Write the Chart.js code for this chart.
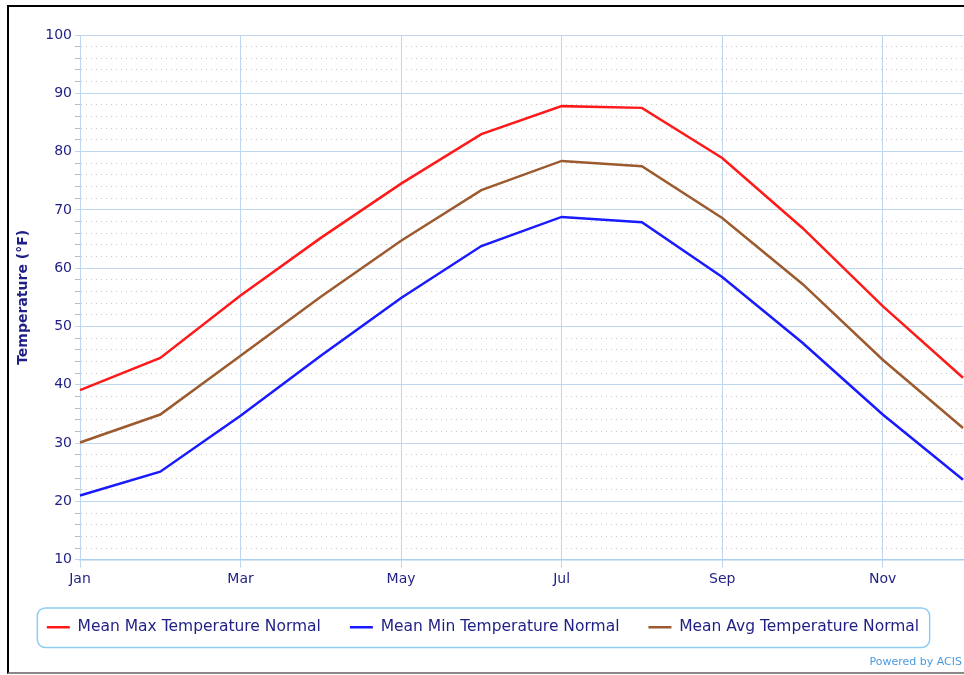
<!DOCTYPE html>
<html>
<head>
<meta charset="utf-8">
<script src="https://cdn.jsdelivr.net/npm/chart.js@4.4.1/dist/chart.umd.min.js"></script>
<style>
  html, body { margin: 0; padding: 0; background: #fff; }
  body { width: 964px; height: 675px; position: relative; overflow: hidden; }
  #frame {
    position: absolute; left: 7px; top: 5px; width: 980px; height: 665px;
    border-left: 2px solid #000; border-top: 2px solid #000; border-bottom: 2px solid #888;
  }
  #wrap { position: absolute; left: 0; top: 0; width: 966px; height: 660px; }
  #credit {
    position: absolute; right: 2px; top: 655px;
    font: 11px "DejaVu Sans", sans-serif; color: #4a9be0;
  }
</style>
</head>
<body>
<div id="frame"></div>
<div id="wrap"><canvas id="chart"></canvas></div>
<div id="credit">Powered by ACIS</div>
<script>
// monthly normals
const months = ['Jan', 'Feb', 'Mar', 'Apr', 'May', 'Jun', 'Jul', 'Aug', 'Sep', 'Oct', 'Nov', 'Dec'];
const maxNormal = [39.1, 44.6, 55.3, 65.2, 74.5, 83.0, 87.8, 87.5, 78.9, 66.9, 53.5, 41.2];
const minNormal = [21.0, 25.1, 34.7, 45.0, 54.9, 63.8, 68.8, 67.9, 58.5, 47.2, 34.9, 23.7];
const avgNormal = [30.1, 34.9, 45.0, 55.1, 64.7, 73.4, 78.4, 77.5, 68.6, 57.3, 44.3, 32.6];
const yMin = 10, yMax = 100;

const textColor = '#1f1f85';
const gridBlue = '#bfd7ee';

// rounded box around the legend
const legendBoxPlugin = {
  id: 'legendBox',
  afterDraw(chart) {
    const lg = chart.legend;
    if (!lg || !lg.legendHitBoxes || !lg.legendHitBoxes.length) return;
    const boxes = lg.legendHitBoxes;
    let x0 = Infinity, x1 = -Infinity, y0 = Infinity, y1 = -Infinity;
    boxes.forEach(b => {
      x0 = Math.min(x0, b.left); x1 = Math.max(x1, b.left + b.width);
      y0 = Math.min(y0, b.top); y1 = Math.max(y1, b.top + b.height);
    });
    const cx = chart.ctx;
    const l = x0 - 10, t = y0 - 12, w = x1 - x0 + 20, h = y1 - y0 + 24, r = 8;
    cx.save();
    cx.strokeStyle = '#8fcdf2';
    cx.lineWidth = 1.5;
    cx.beginPath();
    cx.roundRect(l + 0.5, t + 0.5, w, h, r);
    cx.stroke();
    cx.restore();
  }
};

new Chart(document.getElementById('chart'), {
  type: 'line',
  data: {
    labels: months,
    datasets: [
      { label: 'Mean Max Temperature Normal', data: maxNormal, borderColor: '#ff1a1a', backgroundColor: '#ff1a1a', borderWidth: 2.5 },
      { label: 'Mean Min Temperature Normal', data: minNormal, borderColor: '#1a1aff', backgroundColor: '#1a1aff', borderWidth: 2.5 },
      { label: 'Mean Avg Temperature Normal', data: avgNormal, borderColor: '#9c5a2e', backgroundColor: '#9c5a2e', borderWidth: 2.5 }
    ]
  },
  options: {
    responsive: true,
    maintainAspectRatio: false,
    animation: false,
    layout: { padding: { left: 0, right: 0, top: 35, bottom: 15 } },
    elements: {
      line: { tension: 0 },
      point: { radius: 0, hoverRadius: 0 }
    },
    scales: {
      x: {
        type: 'category',
        offset: false,
        grid: {
          color: (c) => (c.index % 2 === 0 ? gridBlue : 'rgba(0,0,0,0)'),
          tickColor: (c) => (c.index % 2 === 0 ? gridBlue : 'rgba(0,0,0,0)'),
          tickLength: 8
        },
        border: { display: true, color: '#a8d0ee', width: 1.5 },
        ticks: {
          autoSkip: false,
          maxRotation: 0,
          padding: 3,
          color: textColor,
          font: { family: 'DejaVu Sans', size: 14 },
          callback: (v, i) => (i % 2 === 0 ? months[i] : '')
        }
      },
      y: {
        min: yMin,
        max: yMax,
        afterFit: (s) => { s.width = 80; },
        grid: {
          color: (c) => (c.tick && c.tick.value % 10 === 0 ? gridBlue : '#c6cad0'),
          tickColor: (c) => (c.tick && c.tick.value % 10 === 0 ? gridBlue : '#b8bcc2'),
          tickLength: 5
        },
        border: {
          display: true,
          color: gridBlue,
          dash: (c) => (c.tick && c.tick.value % 10 !== 0 ? [1, 4] : [])
        },
        ticks: {
          stepSize: 2,
          autoSkip: false,
          padding: 3,
          color: textColor,
          font: { family: 'DejaVu Sans', size: 14 },
          callback: (v) => (v % 10 === 0 ? v : '')
        },
        title: {
          display: true,
          text: 'Temperature (°F)',
          color: textColor,
          font: { family: 'DejaVu Sans', size: 14, weight: 'bold' },
          padding: { top: 15, bottom: 0 }
        }
      }
    },
    plugins: {
      legend: {
        position: 'bottom',
        labels: {
          usePointStyle: true,
          pointStyle: 'line',
          pointStyleWidth: 23,
          padding: 29,
          color: textColor,
          font: { family: 'DejaVu Sans', size: 15.5 }
        }
      },
      tooltip: { enabled: false }
    }
  },
  plugins: [legendBoxPlugin]
});
</script>
</body>
</html>
